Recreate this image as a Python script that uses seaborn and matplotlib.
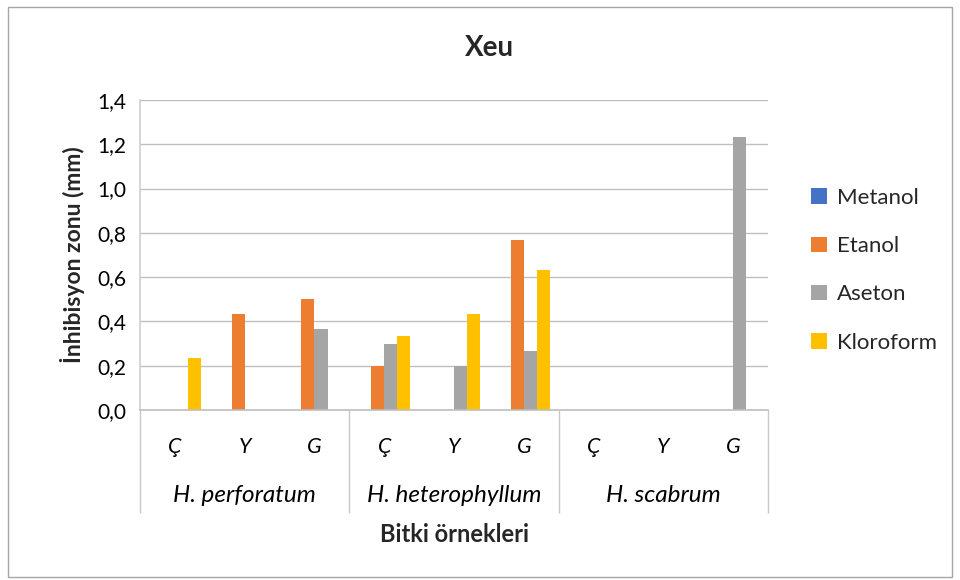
import matplotlib
matplotlib.use("Agg")
import matplotlib.pyplot as plt
import matplotlib.transforms as mtransforms
from matplotlib.patches import Rectangle
import numpy as np
import pandas as pd
import seaborn as sns

# veriler
turler = ["H. perforatum", "H. heterophyllum", "H. scabrum"]
kisimlar = ["Ç", "Y", "G"]
cozuculer = ["Metanol", "Etanol", "Aseton", "Kloroform"]
metanol = [0, 0, 0, 0, 0, 0, 0, 0, 0]
etanol = [0, 0.433, 0.5, 0.2, 0, 0.767, 0, 0, 0]
aseton = [0, 0, 0.367, 0.3, 0.2, 0.267, 0, 0, 1.233]
kloroform = [0.233, 0, 0, 0.333, 0.433, 0.633, 0, 0, 0]
renkler = ["#4472C4", "#ED7D31", "#A5A5A5", "#FFC000"]
y_ticks = [0.0, 0.2, 0.4, 0.6, 0.8, 1.0, 1.2, 1.4]

kategoriler = [f"{t}|{k}" for t in turler for k in kisimlar]
df = pd.DataFrame({
    "kategori": kategoriler * 4,
    "cozucu": np.repeat(cozuculer, len(kategoriler)),
    "deger": metanol + etanol + aseton + kloroform,
})

sns.set_theme(style="white")
plt.rcParams["font.family"] = ["Lato", "DejaVu Sans"]
grid_renk = "#BFBFBF"
yazi = "#000000"

fig = plt.figure(figsize=(9.6, 5.8), dpi=100)
fig.patches.append(Rectangle((8 / 960, 3 / 580), 944 / 960, 570 / 580,
                             transform=fig.transFigure, fill=False,
                             edgecolor="#A6A6A6", linewidth=1))
ax = fig.add_axes([140 / 960, 1 - 410 / 580, 628 / 960, 310 / 580])

sns.barplot(data=df, x="kategori", y="deger", hue="cozucu", order=kategoriler,
            hue_order=cozuculer, palette=renkler, width=0.75, gap=0,
            linewidth=0, saturation=1, errorbar=None, ax=ax)

ax.set_xlim(-0.5, len(kategoriler) - 0.5)
ax.set_ylim(0, 1.4)
ax.set_yticks(y_ticks)
ax.set_yticklabels([f"{v:.1f}".replace(".", ",") for v in y_ticks], fontsize=15)
ax.yaxis.grid(True, color=grid_renk, linewidth=1)
ax.set_axisbelow(True)
for s in ["top", "right"]:
    ax.spines[s].set_visible(False)
ax.spines["left"].set_color("#D0D0D0")
ax.spines["bottom"].set_color(grid_renk)
ax.spines["bottom"].set_linewidth(1.2)
ax.tick_params(axis="y", length=0, pad=10, colors=yazi)

# çok düzeyli kategori ekseni
ax.set_xticks(range(len(kategoriler)))
ax.set_xticklabels([])
ax.tick_params(axis="x", which="major", length=0)
ax.set_xticks([-0.5, 2.5, 5.5, 8.5], minor=True)
ax.tick_params(axis="x", which="minor", bottom=True, length=74, width=1,
               color="#C8C8C8", direction="out")
ax.set_xlabel("")
ax.set_ylabel("İnhibisyon zonu (mm)", fontsize=16.5, fontweight="bold", labelpad=9)

tr = mtransforms.blended_transform_factory(ax.transData, ax.transAxes)
for i, k in enumerate(kategoriler):
    ax.text(i, -0.12, k.split("|")[1], transform=tr, ha="center", va="center",
            fontsize=15.5, style="italic", color=yazi)
for j, t in enumerate(turler):
    ax.text(j * 3 + 1, -0.275, t, transform=tr, ha="center", va="center",
            fontsize=17.5, style="italic", color=yazi)
fig.text(454 / 960, 1 - 535 / 580, "Bitki örnekleri", ha="center", va="center",
         fontsize=17, fontweight="bold")
fig.text(490 / 960, 1 - 48 / 580, "Xeu", ha="center", va="center",
         fontsize=20, fontweight="bold")

handles, labels = ax.get_legend_handles_labels()
ax.legend(handles, labels, loc="upper left", bbox_to_anchor=(791 / 960, 1 - 168 / 580),
          bbox_transform=fig.transFigure, frameon=False, fontsize=16,
          handlelength=0.7, handleheight=0.7, handletextpad=0.45, labelspacing=1.27)

fig.savefig("out.png", dpi=100)
